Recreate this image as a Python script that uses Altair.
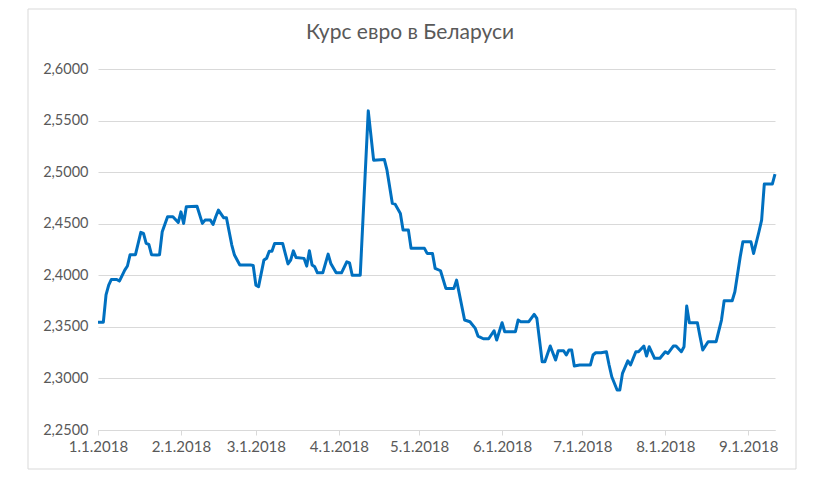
import altair as alt
import pandas as pd

dates = [
    "2018-01-01", "2018-01-03", "2018-01-04", "2018-01-05", "2018-01-06", "2018-01-08", "2018-01-09",
    "2018-01-11", "2018-01-12", "2018-01-13", "2018-01-15", "2018-01-17", "2018-01-18", "2018-01-19",
    "2018-01-20", "2018-01-21", "2018-01-23", "2018-01-24", "2018-01-25", "2018-01-27", "2018-01-29",
    "2018-01-31", "2018-02-01", "2018-02-02", "2018-02-03", "2018-02-07", "2018-02-09", "2018-02-10",
    "2018-02-12", "2018-02-13", "2018-02-14", "2018-02-15", "2018-02-17", "2018-02-18", "2018-02-20",
    "2018-02-21", "2018-02-23", "2018-02-27", "2018-02-28", "2018-03-01", "2018-03-02", "2018-03-04",
    "2018-03-05", "2018-03-06", "2018-03-07", "2018-03-08", "2018-03-11", "2018-03-13", "2018-03-14",
    "2018-03-15", "2018-03-16", "2018-03-19", "2018-03-20", "2018-03-21", "2018-03-22", "2018-03-23",
    "2018-03-24", "2018-03-26", "2018-03-28", "2018-03-29", "2018-03-31", "2018-04-02", "2018-04-04",
    "2018-04-05", "2018-04-06", "2018-04-09", "2018-04-12", "2018-04-14", "2018-04-18", "2018-04-19",
    "2018-04-21", "2018-04-22", "2018-04-24", "2018-04-25", "2018-04-27", "2018-04-28", "2018-05-03",
    "2018-05-04", "2018-05-06", "2018-05-07", "2018-05-09", "2018-05-11", "2018-05-14", "2018-05-15",
    "2018-05-18", "2018-05-20", "2018-05-22", "2018-05-23", "2018-05-25", "2018-05-27", "2018-05-29",
    "2018-05-30", "2018-06-01", "2018-06-02", "2018-06-06", "2018-06-07", "2018-06-08", "2018-06-11",
    "2018-06-13", "2018-06-14", "2018-06-16", "2018-06-17", "2018-06-19", "2018-06-21", "2018-06-22",
    "2018-06-24", "2018-06-25", "2018-06-26", "2018-06-27", "2018-06-28", "2018-06-30", "2018-07-04",
    "2018-07-05", "2018-07-06", "2018-07-08", "2018-07-10", "2018-07-11", "2018-07-12", "2018-07-14",
    "2018-07-15", "2018-07-16", "2018-07-18", "2018-07-19", "2018-07-21", "2018-07-22", "2018-07-24",
    "2018-07-25", "2018-07-26", "2018-07-28", "2018-07-30", "2018-08-01", "2018-08-02", "2018-08-04",
    "2018-08-05", "2018-08-07", "2018-08-08", "2018-08-09", "2018-08-10", "2018-08-13", "2018-08-14",
    "2018-08-15", "2018-08-17", "2018-08-20", "2018-08-22", "2018-08-23", "2018-08-26", "2018-08-27",
    "2018-08-29", "2018-08-30", "2018-09-02", "2018-09-03", "2018-09-05", "2018-09-06", "2018-09-07",
    "2018-09-10", "2018-09-11",
]

rates = [
    2.3545, 2.3545, 2.3810, 2.3905, 2.3960, 2.3960, 2.3944,
    2.4050, 2.4090, 2.4200, 2.4200, 2.4416, 2.4406, 2.4310,
    2.4300, 2.4200, 2.4196, 2.4200, 2.4422, 2.4567, 2.4567,
    2.4512, 2.4615, 2.4503, 2.4664, 2.4670, 2.4503, 2.4535,
    2.4535, 2.4493, 2.4567, 2.4632, 2.4557, 2.4557, 2.4293,
    2.4196, 2.4100, 2.4100, 2.4095, 2.3905, 2.3890, 2.4147,
    2.4164, 2.4234, 2.4234, 2.4309, 2.4309, 2.4110, 2.4147,
    2.4237, 2.4173, 2.4164, 2.4089, 2.4237, 2.4100, 2.4082,
    2.4024, 2.4024, 2.4205, 2.4115, 2.4024, 2.4024, 2.4131,
    2.4120, 2.4000, 2.4000, 2.5594, 2.5116, 2.5123, 2.5019,
    2.4697, 2.4690, 2.4600, 2.4438, 2.4438, 2.4261, 2.4261,
    2.4212, 2.4212, 2.4067, 2.4044, 2.3873, 2.3873, 2.3953,
    2.3566, 2.3550, 2.3485, 2.3411, 2.3385, 2.3385, 2.3462,
    2.3372, 2.3540, 2.3453, 2.3453, 2.3566, 2.3550, 2.3550,
    2.3621, 2.3582, 2.3162, 2.3162, 2.3314, 2.3178, 2.3268,
    2.3268, 2.3227, 2.3275, 2.3275, 2.3120, 2.3130, 2.3130,
    2.3227, 2.3249, 2.3249, 2.3259, 2.3130, 2.3016, 2.2888,
    2.2888, 2.3049, 2.3171, 2.3130, 2.3259, 2.3259, 2.3314,
    2.3217, 2.3307, 2.3195, 2.3195, 2.3259, 2.3243, 2.3314,
    2.3314, 2.3259, 2.3307, 2.3702, 2.3540, 2.3540, 2.3404,
    2.3275, 2.3356, 2.3356, 2.3566, 2.3753, 2.3753, 2.3840,
    2.4179, 2.4325, 2.4325, 2.4212, 2.4422, 2.4535, 2.4884,
    2.4884, 2.4981,
]

x_tick_months = [1, 2, 3, 4, 5, 6, 7, 8, 9]
y_ticks = [2.25, 2.30, 2.35, 2.40, 2.45, 2.50, 2.55, 2.60]
title_text = "Курс евро в Беларуси"

df = pd.DataFrame({"date": dates, "rate": rates})

FONT = "Lato"
GRAY = "#D9D9D9"
TEXT = "#595959"

x_domain = [
    alt.DateTime(year=2018, month=1, date=1, utc=True),
    alt.DateTime(year=2018, month=9, date=11, utc=True),
]
x_values = [alt.DateTime(year=2018, month=m, date=1, utc=True) for m in x_tick_months]

line = alt.Chart(df).mark_line(color="#0070C0", strokeWidth=3, strokeJoin="round").encode(
    x=alt.X(
        "date:T",
        scale=alt.Scale(type="utc", domain=x_domain),
        axis=alt.Axis(
            values=x_values,
            labelExpr="(utcmonth(datum.value)+1) + '.' + utcdate(datum.value) + '.' + utcyear(datum.value)",
            title=None,
            grid=False,
            domainColor=GRAY,
            domainWidth=1,
            tickColor=GRAY,
            tickSize=5,
            labelColor=TEXT,
            labelFont=FONT,
            labelFontSize=15,
            labelPadding=4,
            labelFlush=False,
            labelOverlap=False,
        ),
    ),
    y=alt.Y(
        "rate:Q",
        scale=alt.Scale(domain=[2.25, 2.60], nice=False, zero=False),
        axis=alt.Axis(
            values=y_ticks,
            labelExpr="replace(format(datum.value, '.4f'), '.', ',')",
            title=None,
            domain=False,
            ticks=False,
            gridColor=GRAY,
            gridWidth=1,
            labelColor=TEXT,
            labelFont=FONT,
            labelFontSize=14.5,
            labelPadding=10,
        ),
    ),
)

frame = alt.Chart(pd.DataFrame({"k": [0]})).mark_rect(
    fill=None, stroke=GRAY, strokeWidth=1
).encode(
    x=alt.value(-70), x2=alt.value(698), y=alt.value(-60), y2=alt.value(400)
)

title = alt.Chart(pd.DataFrame({"t": [title_text]})).mark_text(
    font=FONT, fontSize=21, color=TEXT, align="center", baseline="middle"
).encode(
    text="t:N", x=alt.value(312), y=alt.value(-36)
)

chart = alt.layer(frame, line, title).properties(
    width=677,
    height=361,
    padding={"left": 90, "top": 61, "right": 30, "bottom": 40},
    autosize=alt.AutoSizeParams(type="none"),
).configure_view(stroke=None)

chart.save("out.html", embed_options={"renderer": "svg", "actions": False})
